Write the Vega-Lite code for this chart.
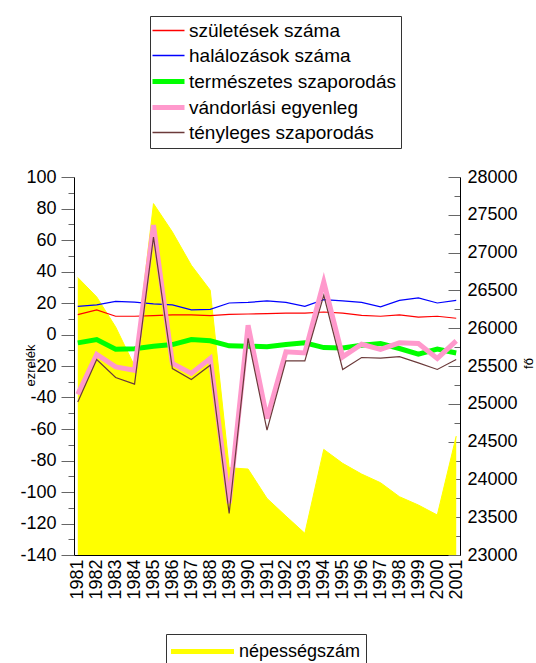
{
  "$schema": "https://vega.github.io/schema/vega-lite/v6.json",
  "width": 386,
  "height": 378,
  "autosize": {"type": "none"},
  "padding": {"left": 74, "top": 177, "right": 76, "bottom": 108},
  "background": "white",
  "config": {"font": "Liberation Sans", "view": {"stroke": null}},
  "datasets": {
    "pop": [
      {"year": 1981, "pop": 26670}, {"year": 1982, "pop": 26414}, {"year": 1983, "pop": 26017},
      {"year": 1984, "pop": 25500}, {"year": 1985, "pop": 27648}, {"year": 1986, "pop": 27273},
      {"year": 1987, "pop": 26833}, {"year": 1988, "pop": 26502}, {"year": 1989, "pop": 24154},
      {"year": 1990, "pop": 24137}, {"year": 1991, "pop": 23749}, {"year": 1992, "pop": 23515},
      {"year": 1993, "pop": 23287}, {"year": 1994, "pop": 24397}, {"year": 1995, "pop": 24212},
      {"year": 1996, "pop": 24071}, {"year": 1997, "pop": 23956}, {"year": 1998, "pop": 23771},
      {"year": 1999, "pop": 23661}, {"year": 2000, "pop": 23529}, {"year": 2001, "pop": 24573}
    ],
    "lines": [
      {"year": 1981, "series": "születések száma", "value": 12.6},
      {"year": 1982, "series": "születések száma", "value": 15.6},
      {"year": 1983, "series": "születések száma", "value": 11.6},
      {"year": 1984, "series": "születések száma", "value": 11.6},
      {"year": 1985, "series": "születések száma", "value": 12.0},
      {"year": 1986, "series": "születések száma", "value": 12.4},
      {"year": 1987, "series": "születések száma", "value": 12.4},
      {"year": 1988, "series": "születések száma", "value": 12.0},
      {"year": 1989, "series": "születések száma", "value": 12.8},
      {"year": 1990, "series": "születések száma", "value": 13.0},
      {"year": 1991, "series": "születések száma", "value": 13.3},
      {"year": 1992, "series": "születések száma", "value": 13.6},
      {"year": 1993, "series": "születések száma", "value": 13.6},
      {"year": 1994, "series": "születések száma", "value": 14.3},
      {"year": 1995, "series": "születések száma", "value": 13.6},
      {"year": 1996, "series": "születések száma", "value": 12.2},
      {"year": 1997, "series": "születések száma", "value": 11.6},
      {"year": 1998, "series": "születések száma", "value": 12.4},
      {"year": 1999, "series": "születések száma", "value": 11.0},
      {"year": 2000, "series": "születések száma", "value": 11.6},
      {"year": 2001, "series": "születések száma", "value": 10.3},
      {"year": 1981, "series": "halálozások száma", "value": 17.9},
      {"year": 1982, "series": "halálozások száma", "value": 18.8},
      {"year": 1983, "series": "halálozások száma", "value": 21.0},
      {"year": 1984, "series": "halálozások száma", "value": 20.6},
      {"year": 1985, "series": "halálozások száma", "value": 19.4},
      {"year": 1986, "series": "halálozások száma", "value": 18.8},
      {"year": 1987, "series": "halálozások száma", "value": 15.6},
      {"year": 1988, "series": "halálozások száma", "value": 16.0},
      {"year": 1989, "series": "halálozások száma", "value": 20.0},
      {"year": 1990, "series": "halálozások száma", "value": 20.4},
      {"year": 1991, "series": "halálozások száma", "value": 21.3},
      {"year": 1992, "series": "halálozások száma", "value": 20.4},
      {"year": 1993, "series": "halálozások száma", "value": 17.9},
      {"year": 1994, "series": "halálozások száma", "value": 22.1},
      {"year": 1995, "series": "halálozások száma", "value": 21.3},
      {"year": 1996, "series": "halálozások száma", "value": 20.4},
      {"year": 1997, "series": "halálozások száma", "value": 17.5},
      {"year": 1998, "series": "halálozások száma", "value": 21.7},
      {"year": 1999, "series": "halálozások száma", "value": 23.2},
      {"year": 2000, "series": "halálozások száma", "value": 20.0},
      {"year": 2001, "series": "halálozások száma", "value": 21.7},
      {"year": 1981, "series": "természetes szaporodás", "value": -5.3},
      {"year": 1982, "series": "természetes szaporodás", "value": -3.2},
      {"year": 1983, "series": "természetes szaporodás", "value": -9.4},
      {"year": 1984, "series": "természetes szaporodás", "value": -9.0},
      {"year": 1985, "series": "természetes szaporodás", "value": -7.4},
      {"year": 1986, "series": "természetes szaporodás", "value": -6.4},
      {"year": 1987, "series": "természetes szaporodás", "value": -3.2},
      {"year": 1988, "series": "természetes szaporodás", "value": -4.0},
      {"year": 1989, "series": "természetes szaporodás", "value": -7.2},
      {"year": 1990, "series": "természetes szaporodás", "value": -7.4},
      {"year": 1991, "series": "természetes szaporodás", "value": -7.8},
      {"year": 1992, "series": "természetes szaporodás", "value": -6.4},
      {"year": 1993, "series": "természetes szaporodás", "value": -5.3},
      {"year": 1994, "series": "természetes szaporodás", "value": -8.3},
      {"year": 1995, "series": "természetes szaporodás", "value": -8.5},
      {"year": 1996, "series": "természetes szaporodás", "value": -6.8},
      {"year": 1997, "series": "természetes szaporodás", "value": -5.7},
      {"year": 1998, "series": "természetes szaporodás", "value": -8.9},
      {"year": 1999, "series": "természetes szaporodás", "value": -12.5},
      {"year": 2000, "series": "természetes szaporodás", "value": -9.3},
      {"year": 2001, "series": "természetes szaporodás", "value": -11.7},
      {"year": 1981, "series": "vándorlási egyenleg", "value": -38.0},
      {"year": 1982, "series": "vándorlási egyenleg", "value": -12.7},
      {"year": 1983, "series": "vándorlási egyenleg", "value": -20.6},
      {"year": 1984, "series": "vándorlási egyenleg", "value": -22.7},
      {"year": 1985, "series": "vándorlási egyenleg", "value": 69.4},
      {"year": 1986, "series": "vándorlási egyenleg", "value": -18.4},
      {"year": 1987, "series": "vándorlási egyenleg", "value": -24.7},
      {"year": 1988, "series": "vándorlási egyenleg", "value": -15.2},
      {"year": 1989, "series": "vándorlási egyenleg", "value": -107.2},
      {"year": 1990, "series": "vándorlási egyenleg", "value": 5.9},
      {"year": 1991, "series": "vándorlási egyenleg", "value": -53.3},
      {"year": 1992, "series": "vándorlási egyenleg", "value": -11.0},
      {"year": 1993, "series": "vándorlási egyenleg", "value": -11.7},
      {"year": 1994, "series": "vándorlási egyenleg", "value": 33.4},
      {"year": 1995, "series": "vándorlási egyenleg", "value": -14.2},
      {"year": 1996, "series": "vándorlási egyenleg", "value": -6.2},
      {"year": 1997, "series": "vándorlási egyenleg", "value": -9.5},
      {"year": 1998, "series": "vándorlási egyenleg", "value": -5.3},
      {"year": 1999, "series": "vándorlási egyenleg", "value": -5.7},
      {"year": 2000, "series": "vándorlási egyenleg", "value": -15.2},
      {"year": 2001, "series": "vándorlási egyenleg", "value": -4.1},
      {"year": 1981, "series": "tényleges szaporodás", "value": -42.8},
      {"year": 1982, "series": "tényleges szaporodás", "value": -15.9},
      {"year": 1983, "series": "tényleges szaporodás", "value": -27.3},
      {"year": 1984, "series": "tényleges szaporodás", "value": -31.5},
      {"year": 1985, "series": "tényleges szaporodás", "value": 61.9},
      {"year": 1986, "series": "tényleges szaporodás", "value": -21.6},
      {"year": 1987, "series": "tényleges szaporodás", "value": -28.6},
      {"year": 1988, "series": "tényleges szaporodás", "value": -19.5},
      {"year": 1989, "series": "tényleges szaporodás", "value": -113.6},
      {"year": 1990, "series": "tényleges szaporodás", "value": -2.5},
      {"year": 1991, "series": "tényleges szaporodás", "value": -60.7},
      {"year": 1992, "series": "tényleges szaporodás", "value": -16.8},
      {"year": 1993, "series": "tényleges szaporodás", "value": -16.8},
      {"year": 1994, "series": "tényleges szaporodás", "value": 24.9},
      {"year": 1995, "series": "tényleges szaporodás", "value": -22.2},
      {"year": 1996, "series": "tényleges szaporodás", "value": -14.6},
      {"year": 1997, "series": "tényleges szaporodás", "value": -15.0},
      {"year": 1998, "series": "tényleges szaporodás", "value": -14.1},
      {"year": 1999, "series": "tényleges szaporodás", "value": -18.0},
      {"year": 2000, "series": "tényleges szaporodás", "value": -22.2},
      {"year": 2001, "series": "tényleges szaporodás", "value": -15.9}
    ]
  },
  "encoding": {
    "x": {
      "field": "year",
      "type": "ordinal",
      "scale": {"type": "point", "padding": 0.2},
      "axis": {
        "orient": "bottom",
        "title": null,
        "labelAngle": 270,
        "labelAlign": "right",
        "labelBaseline": "middle",
        "labelFont": "Liberation Sans",
        "labelFontSize": 18,
        "labelColor": "black",
        "labelPadding": 4,
        "labelOverlap": false,
        "ticks": false,
        "domainColor": "black",
        "grid": false
      }
    }
  },
  "layer": [
    {
      "data": {"name": "pop"},
      "encoding": {
        "y": {
          "field": "pop",
          "type": "quantitative",
          "scale": {"domain": [23000, 28000], "zero": false, "nice": false},
          "axis": {
            "orient": "right",
            "values": [23000, 23250, 23500, 23750, 24000, 24250, 24500, 24750, 25000, 25250, 25500, 25750, 26000, 26250, 26500, 26750, 27000, 27250, 27500, 27750, 28000],
            "format": "d",
            "labelExpr": "datum.value % 500 === 0 ? datum.label : ''",
            "tickSize": {"condition": {"test": "datum.value % 500 === 0", "value": -12}, "value": -6},
            "labelPadding": 19,
            "labelFont": "Liberation Sans",
            "labelFontSize": 18,
            "labelColor": "black",
            "domainColor": "black",
            "tickColor": "#666666",
            "grid": false,
            "title": "fő",
            "titleFont": "Liberation Sans",
            "titleFontSize": 13,
            "titleFontWeight": "normal",
            "titleColor": "black",
            "titleAngle": 270,
            "titleX": 68,
            "titleY": 186,
            "titleAlign": "center",
            "titleBaseline": "middle"
          }
        }
      },
      "layer": [
        {
          "mark": {"type": "area", "color": "#FFFF00", "clip": true},
          "encoding": {"y2": {"datum": 23000}}
        },
        {
          "mark": {"type": "line", "strokeWidth": 1, "clip": true},
          "encoding": {
            "stroke": {
              "datum": "népességszám",
              "type": "nominal",
              "scale": {"range": ["#FFFF00"]},
              "legend": {
                "title": null,
                "orient": "none",
                "legendX": 92,
                "legendY": 457,
                "direction": "vertical",
                "symbolType": "M-3.15,0H3.15",
                "symbolSize": 400,
                "symbolOffset": 19,
                "symbolStrokeWidth": 5,
                "labelFont": "Liberation Sans",
                "labelFontSize": 18,
                "labelColor": "black",
                "labelOffset": 24,
                "padding": 5,
                "strokeColor": "#333333",
                "fillColor": "white"
              }
            }
          }
        }
      ]
    },
    {
      "data": {"name": "lines"},
      "encoding": {
        "y": {
          "field": "value",
          "type": "quantitative",
          "scale": {"domain": [-140, 100], "nice": false},
          "axis": {
            "orient": "left",
            "values": [-140, -130, -120, -110, -100, -90, -80, -70, -60, -50, -40, -30, -20, -10, 0, 10, 20, 30, 40, 50, 60, 70, 80, 90, 100],
            "labelExpr": "datum.value % 20 === 0 ? replace(datum.label, '−', '-') : ''",
            "tickSize": {"condition": {"test": "datum.value % 20 === 0", "value": 13}, "value": 6},
            "labelPadding": 5,
            "labelFont": "Liberation Sans",
            "labelFontSize": 18,
            "labelColor": "black",
            "domainColor": "black",
            "tickColor": "#666666",
            "grid": false,
            "title": "ezrelék",
            "titleFont": "Liberation Sans",
            "titleFontSize": 13,
            "titleFontWeight": "normal",
            "titleColor": "black",
            "titleAngle": 270,
            "titleX": -44,
            "titleY": 188,
            "titleAlign": "center",
            "titleBaseline": "middle"
          }
        },
        "color": {
          "field": "series",
          "type": "nominal",
          "scale": {
            "domain": ["születések száma", "halálozások száma", "természetes szaporodás", "vándorlási egyenleg", "tényleges szaporodás"],
            "range": ["#FF0000", "#0000FF", "#00FF00", "#FF99CC", "#6B3A3A"]
          },
          "legend": {
            "title": null,
            "orient": "none",
            "legendX": 76,
            "legendY": -161,
            "direction": "vertical",
            "symbolType": "stroke",
            "symbolSize": 1024,
            "symbolOffset": 4,
            "labelFont": "Liberation Sans",
            "labelFontSize": 19,
            "labelColor": "black",
            "labelOffset": 11,
            "labelLimit": 400,
            "rowPadding": 5,
            "padding": 5,
            "strokeColor": "#333333",
            "fillColor": "white",
            "encode": {
              "symbols": {
                "update": {
                  "strokeWidth": {"signal": "(datum.value === 'természetes szaporodás' || datum.value === 'vándorlási egyenleg') ? 5 : 1.5"}
                }
              }
            }
          }
        }
      },
      "layer": [
        {
          "mark": {"type": "rule", "color": "#404040", "strokeWidth": 1},
          "encoding": {"y": {"datum": 0, "type": "quantitative"}, "color": {"value": "#404040"}}
        },
        {
          "transform": [{"filter": "datum.series === 'születések száma'"}],
          "mark": {"type": "line", "strokeWidth": 1.2}
        },
        {
          "transform": [{"filter": "datum.series === 'halálozások száma'"}],
          "mark": {"type": "line", "strokeWidth": 1.2}
        },
        {
          "transform": [{"filter": "datum.series === 'természetes szaporodás'"}],
          "mark": {"type": "line", "strokeWidth": 5}
        },
        {
          "transform": [{"filter": "datum.series === 'vándorlási egyenleg'"}],
          "mark": {"type": "line", "strokeWidth": 5}
        },
        {
          "transform": [{"filter": "datum.series === 'tényleges szaporodás'"}],
          "mark": {"type": "line", "strokeWidth": 1.2}
        }
      ]
    }
  ],
  "resolve": {"scale": {"y": "independent"}}
}
